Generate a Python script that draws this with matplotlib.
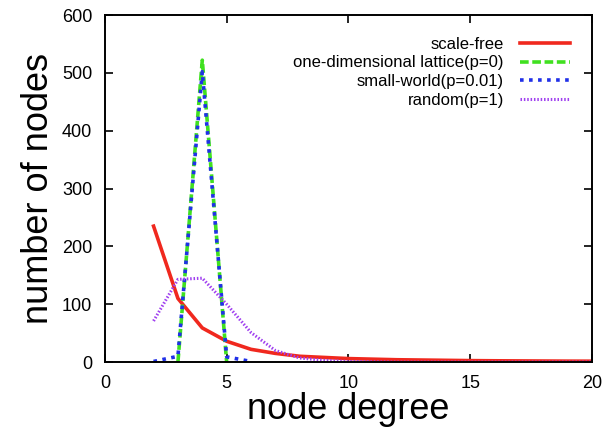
import matplotlib
matplotlib.use("Agg")
import matplotlib.pyplot as plt

plt.rcParams['font.family'] = ['Liberation Sans', 'DejaVu Sans']

sf_x = [2, 3, 4, 5, 6, 7, 8, 9, 10, 11, 12, 13, 14, 15, 16, 17, 18, 19, 20]
sf_y = [235, 110, 59, 36, 22, 15, 10, 8, 6, 5, 4, 3.5, 3, 2.5, 2.2, 2, 1.8, 1.6, 1.5]

lat_x = [3, 4, 5]
lat_y = [0, 522, 0]

sw_x = [2, 3, 4, 5, 6]
sw_y = [1, 10, 502, 9, 1]

rnd_x = [2, 3, 4, 5, 6, 7, 8, 9, 10, 11, 12, 13, 14, 15, 16, 17, 18, 19, 20]
rnd_y = [71, 143, 145, 100, 51, 20, 7, 3, 1, 0.5, 0, 0, 0, 0, 0, 0, 0, 0, 0]

labels = ["scale-free", "one-dimensional lattice(p=0)", "small-world(p=0.01)", "random(p=1)"]

fig = plt.figure(figsize=(6.13, 4.30), dpi=100)
ax = fig.add_axes([0.171, 0.158, 0.795, 0.807])

ax.plot(sf_x, sf_y, color='#f0281e', lw=2.6, label=labels[0])
ax.plot(lat_x, lat_y, color='#40e020', lw=2.6, ls=(0, (2.4, 1.0)), label=labels[1])
ax.plot(sw_x, sw_y, color='#2030e8', lw=2.6, ls=(0, (1.0, 1.5)), label=labels[2])
ax.plot(rnd_x, rnd_y, color='#a040f0', lw=2.2, ls=(0, (0.5, 0.6)), label=labels[3])

ax.set_xlim(0, 20)
ax.set_ylim(0, 600)
ax.set_xticks([0, 5, 10, 15, 20])
ax.set_yticks([0, 100, 200, 300, 400, 500, 600])
ax.tick_params(direction='in', top=True, right=True, labelsize=13, length=6, width=1.2, pad=9)
for s in ax.spines.values():
    s.set_linewidth(1.4)

ax.set_xlabel("node degree", fontsize=26, labelpad=0)
ax.set_ylabel("number of nodes", fontsize=26, labelpad=4)

leg = ax.legend(loc='upper right', frameon=False, markerfirst=False, fontsize=12,
                handlelength=3.0, handletextpad=1.0, labelspacing=0.22,
                borderaxespad=0.9)

fig.savefig("out.png", dpi=100)
